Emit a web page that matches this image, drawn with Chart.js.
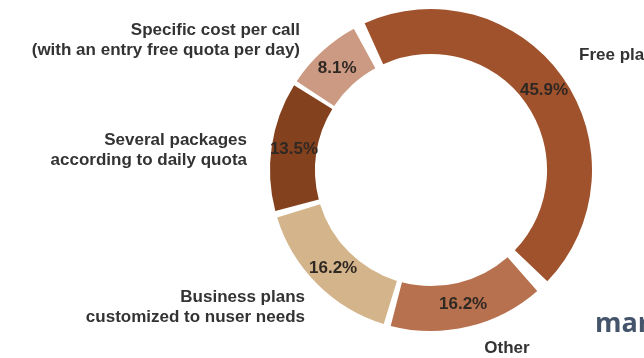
<!DOCTYPE html>
<html>
<head>
<meta charset="utf-8">
<script src="https://cdn.jsdelivr.net/npm/chart.js@4"></script>
<style>
  html, body { margin: 0; padding: 0; background: #fff; }
  #wrap { width: 644px; height: 358px; position: relative; }
</style>
</head>
<body>
<div id="wrap"><canvas id="myChart" width="644" height="358"></canvas></div>
<script>
const categories = [
  ["Free plan"],
  ["Other"],
  ["Business plans", "customized to nuser needs"],
  ["Several packages", "according to daily quota"],
  ["Specific cost per call", "(with an entry free quota per day)"]
];
const shares = [45.9, 16.2, 16.2, 13.5, 8.1];
const sliceColors = ["#A0522D", "#B7714F", "#D4B48A", "#84411E", "#CC9A82"];

// where each category name sits, relative to the ring centre
const nameSpots = [
  { dx: 148, dy: -115, align: "left" },
  { dx: 76, dy: 178, align: "center" },
  { dx: -126, dy: 127, align: "right" },
  { dx: -184, dy: -30, align: "right" },
  { dx: -131, dy: -140, align: "right" }
];

const labelPlugin = {
  id: "sliceLabels",
  afterDraw(chart) {
    const ctx = chart.ctx;
    const meta = chart.getDatasetMeta(0);
    const cx = meta.data[0].x;
    const cy = meta.data[0].y;
    ctx.save();
    ctx.font = "bold 17px 'Liberation Sans', Arial, sans-serif";
    ctx.textBaseline = "middle";

    meta.data.forEach(function(arc, i) {
      const p = arc.getCenterPoint();
      ctx.fillStyle = "#302823";
      ctx.textAlign = "center";
      ctx.fillText(shares[i].toFixed(1) + "%", p.x, p.y);

      const spot = nameSpots[i];
      ctx.fillStyle = "#333333";
      ctx.textAlign = spot.align;
      categories[i].forEach(function(line, j) {
        ctx.fillText(line, cx + spot.dx, cy + spot.dy + j * 20);
      });
    });

    ctx.font = "bold 27px 'Open Sans', sans-serif";
    ctx.fillStyle = "#44546A";
    ctx.textAlign = "left";
    ctx.textBaseline = "alphabetic";
    ctx.fillText("mar", 595, 332);
    ctx.restore();
  }
};

const data = {
  labels: categories.map(c => c.join(" ")),
  datasets: [{
    data: shares,
    backgroundColor: sliceColors,
    borderWidth: 0,
    spacing: 12
  }]
};

const config = {
  type: "doughnut",
  data: data,
  options: {
    responsive: false,
    animation: false,
    rotation: -28,
    cutout: "71%",
    layout: { padding: { left: 270, right: 52, top: 9, bottom: 27 } },
    plugins: {
      legend: { display: false },
      tooltip: { enabled: false }
    }
  },
  plugins: [labelPlugin]
};

const myChart = new Chart(document.getElementById("myChart"), config);
</script>
</body>
</html>
